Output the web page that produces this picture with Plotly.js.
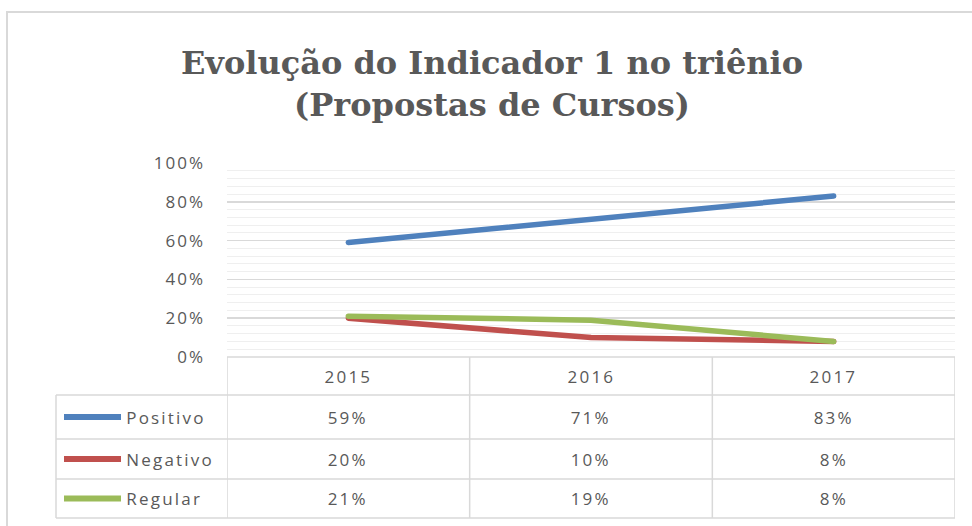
<!DOCTYPE html>
<html>
<head>
<meta charset="utf-8">
<script src="https://cdn.plot.ly/plotly-3.0.1.min.js"></script>
<style>
html,body{margin:0;padding:0;background:#fff;}
#chart{width:972px;height:526px;}
#chart path.js-line{stroke-linecap:round;}
#chart .annotation-text{letter-spacing:2.2px;}
#chart .ytick text{letter-spacing:2px;}
</style>
</head>
<body>
<div id="chart"></div>
<script>
// ---- data ----
const categories = ['2015', '2016', '2017'];
const seriesNames = ['Positivo', 'Negativo', 'Regular'];
const positivo = [0.59, 0.71, 0.83];
const negativo = [0.20, 0.10, 0.08];
const regular  = [0.21, 0.19, 0.08];
const seriesColors = ['#4F81BD', '#C0504D', '#9BBB59'];
const yTickVals = [0, 0.2, 0.4, 0.6, 0.8, 1.0];
const yTickText = ['0%', '20%', '40%', '60%', '80%', '100%'];
const titleText = 'Evolução do Indicador 1 no triênio<br>(Propostas de Cursos)';

const seriesValues = [positivo, negativo, regular];

// ---- layout geometry (pixels) ----
const W = 972, H = 526;
const L = 227, R = 955, T = 163, B = 357;
const PW = R - L, PH = B - T;
const px = x => (x - L) / PW;          // pixel x -> paper x
const py = y => (B - y) / PH;          // pixel y -> paper y
const tableRows = [357, 395, 439, 479, 518];   // horizontal rules
const legendLeft = 56;
const gridCol = '#d9d9d9';
const textCol = '#595959';
const font = 'Open Sans, Liberation Sans, sans-serif';
const spacing = 2.2;   // css letter-spacing of table texts

const traces = seriesValues.map((vals, i) => ({
  type: 'scatter', mode: 'lines',
  x: categories, y: vals, name: seriesNames[i],
  line: {color: seriesColors[i], width: 5.5},
  hoverinfo: 'skip', showlegend: false
}));

const shapes = [];
const annotations = [];

// outer chart border
shapes.push({type:'rect', xref:'paper', yref:'paper',
  x0: px(7), x1: px(W + 20), y0: py(12), y1: py(H + 20),
  line:{color:'#d9d9d9', width:2}, layer:'below'});

// table horizontal rules
tableRows.forEach((y, k) => {
  shapes.push({type:'line', xref:'paper', yref:'paper',
    x0: k === 0 ? 0 : px(legendLeft), x1: 1, y0: py(y), y1: py(y),
    line:{color:gridCol, width:1.5}});
});
// left border of legend column
shapes.push({type:'line', xref:'paper', yref:'paper',
  x0: px(legendLeft), x1: px(legendLeft), y0: py(tableRows[1]), y1: py(tableRows[4]),
  line:{color:gridCol, width:1.5}});
// column separators at category boundaries
for (let c = -0.5; c <= categories.length - 0.5; c += 1) {
  shapes.push({type:'line', xref:'x', yref:'paper',
    x0: c, x1: c, y0: py(tableRows[0]), y1: py(tableRows[4]),
    line:{color:gridCol, width:1.5}});
}

// header row: categories (x given as category index)
categories.forEach((cat, j) => {
  annotations.push({xref:'x', yref:'paper', x: j,
    y: py((tableRows[0] + tableRows[1]) / 2), text: cat, showarrow:false,
    xanchor:'center', yanchor:'middle', font:{family:font, size:17, color:textCol}});
});

// data rows
seriesValues.forEach((vals, i) => {
  const yc = py((tableRows[i + 1] + tableRows[i + 2]) / 2);
  // legend key
  shapes.push({type:'line', xref:'paper', yref:'paper',
    x0: px(64), x1: px(121), y0: yc, y1: yc,
    line:{color:seriesColors[i], width:6}});
  annotations.push({xref:'paper', yref:'paper',
    x: px(124 + seriesNames[i].length * spacing / 2), y: yc,
    text: seriesNames[i], showarrow:false, xanchor:'left', yanchor:'middle',
    font:{family:font, size:17, color:textCol}});
  vals.forEach((v, j) => {
    annotations.push({xref:'x', yref:'paper', x: j, y: yc,
      text: Math.round(v * 100) + '%', showarrow:false,
      xanchor:'center', yanchor:'middle', font:{family:font, size:17, color:textCol}});
  });
});

const layout = {
  width: W, height: H,
  margin: {l: L, r: W - R, t: T, b: H - B, pad: 0},
  paper_bgcolor: '#fff', plot_bgcolor: '#fff',
  title: {text: titleText, xref:'container', yref:'container',
    x: 492 / W, y: 1 - 74 / H, xanchor:'center', yanchor:'top',
    font:{family:'DejaVu Serif, serif', size:32, color:textCol, weight:'bold'}},
  xaxis: {type:'category', range:[-0.5, categories.length - 0.5],
    showticklabels:false, showgrid:false, zeroline:false, showline:false, fixedrange:true},
  yaxis: {range:[0, 1], tickvals: yTickVals, ticktext: yTickText,
    showgrid:true, gridcolor:gridCol, gridwidth:1.5, zeroline:false, showline:false,
    ticks:'', ticklabelstandoff: 21,
    tickfont:{family:font, size:17, color:textCol},
    minor:{dtick:0.04, tick0:0, showgrid:true, gridcolor:'#efefef', gridwidth:1, ticks:''},
    fixedrange:true},
  shapes: shapes,
  annotations: annotations,
  showlegend: false
};

Plotly.newPlot('chart', traces, layout, {displayModeBar:false, staticPlot:true});
</script>
</body>
</html>
